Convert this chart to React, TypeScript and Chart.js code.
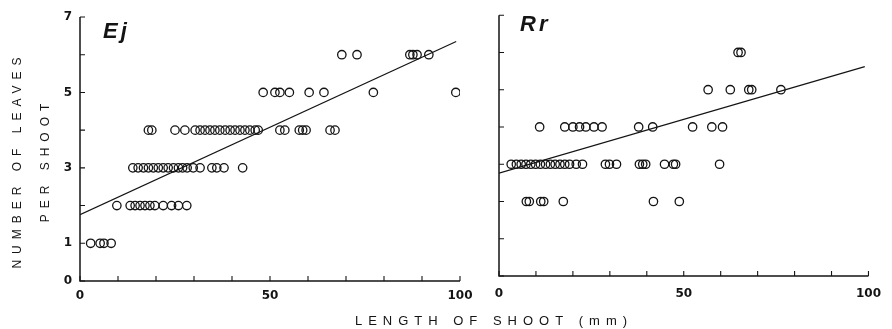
import React, { useEffect, useRef } from 'react';
import { Chart, registerables } from 'chart.js';

Chart.register(...registerables);

// ---------- data ----------
// Leaf counts (y) and the shoot lengths (mm, x) observed at each count
const ejLevels = [1, 2, 3, 4, 5, 6];
const ejAt1 = [2.8, 5.3, 6.3, 8.2];
const ejAt2 = [9.7, 13.2, 14.5, 15.8, 17.1, 18.4, 19.7, 21.9, 24.1, 25.9, 28.1];
const ejAt3 = [13.9, 15.3, 16.7, 18.0, 19.3, 20.6, 21.9, 23.2, 24.6, 25.9, 27.0, 28.2, 29.8, 31.6, 34.7, 36.0, 37.9, 42.8];
const ejAt4 = [18.0, 18.9, 25.0, 27.6, 30.3, 31.6, 32.9, 34.2, 35.5, 36.8, 38.2, 39.5, 40.8, 42.1, 43.4, 44.7, 46.1, 46.9, 52.6, 53.9, 57.7, 58.6, 59.5, 65.8, 67.1];
const ejAt5 = [48.2, 51.3, 52.6, 55.1, 60.3, 64.2, 77.2, 98.9];
const ejAt6 = [68.9, 72.9, 86.8, 87.6, 88.7, 91.8];
const ejFitX = [0, 99];
const ejFitY = [1.76, 6.35];

const rrLevels = [2, 3, 4, 5, 6];
const rrAt2 = [7.4, 8.2, 11.3, 12.1, 17.4, 41.8, 48.8];
const rrAt3 = [3.3, 4.7, 6.0, 7.3, 8.6, 9.9, 11.2, 12.6, 13.9, 15.2, 16.5, 17.8, 19.1, 20.9, 22.6, 28.8, 29.9, 31.8, 38.0, 38.9, 39.7, 44.8, 47.2, 47.8, 59.7];
const rrAt4 = [11.0, 17.8, 20.0, 21.8, 23.5, 25.7, 27.9, 37.8, 41.6, 52.4, 57.6, 60.5];
const rrAt5 = [56.6, 62.6, 67.6, 68.4, 76.3];
const rrAt6 = [64.7, 65.5];
const rrFitX = [0, 99];
const rrFitY = [2.76, 5.62];

const leftYTickLabels = [0, 1, 3, 5, 7];
const rightYTickLabels: number[] = [];
const xTickLabels = [0, 50, 100];

const ejTitle = 'Ej';
const rrTitle = 'Rr';
const yTitle1 = 'NUMBER OF LEAVES';
const yTitle2 = 'PER SHOOT';
const xTitle = 'LENGTH OF SHOOT (mm)';

// ---------- drawing ----------
const W = 892;
const H = 329;
const INK = '#141414';
const SANS = '"Liberation Sans", Arial, sans-serif';
const TICKFONT = { family: '"DejaVu Sans", sans-serif', size: 12, weight: 'bold' as const };

const framePlugin = {
  id: 'frame',
  afterDraw(chart: any, _args: any, opts: any) {
    const { ctx, chartArea: a, scales } = chart;
    const xs = scales.x;
    const ys = scales.y;
    ctx.save();
    ctx.strokeStyle = INK;
    ctx.lineWidth = 1.5;
    ctx.beginPath();
    ctx.moveTo(a.left, a.top);
    ctx.lineTo(a.left, a.bottom);
    ctx.lineTo(a.right, a.bottom);
    ctx.stroke();
    ctx.lineWidth = 1.1;
    ctx.beginPath();
    ys.ticks.forEach((t: any) => {
      const p = ys.getPixelForValue(t.value);
      ctx.moveTo(a.left, p);
      ctx.lineTo(a.left + 5, p);
    });
    xs.ticks.forEach((t: any) => {
      const p = xs.getPixelForValue(t.value);
      ctx.moveTo(p, a.bottom);
      ctx.lineTo(p, a.bottom - 5);
    });
    ctx.stroke();
    (opts.texts || []).forEach((t: any) => {
      ctx.save();
      ctx.font = t.font;
      ctx.fillStyle = INK;
      ctx.textAlign = t.align || 'left';
      ctx.textBaseline = t.baseline || 'alphabetic';
      try { (ctx as any).letterSpacing = t.spacing || '0px'; } catch (e) {}
      ctx.translate(t.x, t.y);
      if (t.rotate) ctx.rotate(t.rotate);
      ctx.fillText(t.text, 0, 0);
      ctx.restore();
    });
    ctx.restore();
  },
};

function points(levels: number[], lists: number[][]) {
  const out: { x: number; y: number }[] = [];
  levels.forEach((lv, i) => lists[i].forEach((x) => out.push({ x, y: lv })));
  return out;
}

function fit(xs: number[], ys: number[]) {
  return xs.map((x, i) => ({ x, y: ys[i] }));
}

function makeConfig(p: {
  pts: { x: number; y: number }[];
  line: { x: number; y: number }[];
  padding: { left: number; top: number; right: number; bottom: number };
  yWidth: number;
  xHeight: number;
  yLabels: number[];
  xPad: number;
  texts: any[];
}): any {
  return {
    type: 'scatter',
    data: {
      datasets: [
        {
          data: p.pts,
          pointRadius: 4.2,
          pointBorderWidth: 1.3,
          pointBorderColor: INK,
          pointBackgroundColor: 'rgba(0,0,0,0)',
          borderColor: INK,
          backgroundColor: 'rgba(0,0,0,0)',
        },
        {
          data: p.line,
          showLine: true,
          pointRadius: 0,
          borderColor: INK,
          borderWidth: 1.2,
          backgroundColor: 'rgba(0,0,0,0)',
        },
      ],
    },
    options: {
      responsive: false,
      animation: false,
      events: [],
      layout: { padding: p.padding },
      plugins: {
        legend: { display: false },
        tooltip: { enabled: false },
        frame: { texts: p.texts },
      },
      scales: {
        x: {
          type: 'linear',
          min: 0,
          max: 100,
          grid: { display: false, drawTicks: false },
          border: { display: false },
          afterFit: (s: any) => { s.height = p.xHeight; },
          ticks: {
            stepSize: 10,
            autoSkip: false,
            maxRotation: 0,
            padding: p.xPad,
            color: INK,
            font: TICKFONT,
            callback: (v: number) => (xTickLabels.includes(v) ? String(v) : ''),
          },
        },
        y: {
          type: 'linear',
          min: 0,
          max: 7,
          grid: { display: false, drawTicks: false },
          border: { display: false },
          afterFit: (s: any) => { s.width = p.yWidth; },
          ticks: {
            stepSize: 1,
            autoSkip: false,
            padding: 8,
            color: INK,
            font: TICKFONT,
            callback: (v: number) => (p.yLabels.includes(v) ? String(v) : ''),
          },
        },
      },
    },
    plugins: [framePlugin],
  };
}

export default function App() {
  const leftRef = useRef<HTMLCanvasElement>(null);
  const rightRef = useRef<HTMLCanvasElement>(null);

  useEffect(() => {
    document.body.style.margin = '0';
    const left = new Chart(
      leftRef.current as HTMLCanvasElement,
      makeConfig({
        pts: points(ejLevels, [ejAt1, ejAt2, ejAt3, ejAt4, ejAt5, ejAt6]),
        line: fit(ejFitX, ejFitY),
        padding: { left: 0, top: 17, right: W - 460, bottom: 0 },
        yWidth: 80,
        xHeight: H - 281,
        yLabels: leftYTickLabels,
        xPad: 8,
        texts: [
          { text: ejTitle, font: `italic bold 22px ${SANS}`, x: 103, y: 38, spacing: '3px' },
          { text: yTitle1, font: `12px ${SANS}`, x: 18, y: 160, align: 'center', baseline: 'middle', spacing: '6px', rotate: -Math.PI / 2 },
          { text: yTitle2, font: `12px ${SANS}`, x: 46, y: 160, align: 'center', baseline: 'middle', spacing: '6px', rotate: -Math.PI / 2 },
          { text: xTitle, font: `13px ${SANS}`, x: 494, y: 321, align: 'center', baseline: 'middle', spacing: '6px' },
        ],
      })
    );
    const right = new Chart(
      rightRef.current as HTMLCanvasElement,
      makeConfig({
        pts: points(rrLevels, [rrAt2, rrAt3, rrAt4, rrAt5, rrAt6]),
        line: fit(rrFitX, rrFitY),
        padding: { left: 470, top: 12, right: W - 879, bottom: 0 },
        yWidth: 29,
        xHeight: H - 276,
        yLabels: rightYTickLabels,
        xPad: 11,
        texts: [
          { text: rrTitle, font: `italic bold 22px ${SANS}`, x: 520, y: 31, spacing: '3px' },
        ],
      })
    );
    return () => {
      left.destroy();
      right.destroy();
    };
  }, []);

  return (
    <div style={{ position: 'relative', width: W, height: H, background: '#fff' }}>
      <canvas ref={leftRef} width={W} height={H} style={{ position: 'absolute', left: 0, top: 0 }} />
      <canvas ref={rightRef} width={W} height={H} style={{ position: 'absolute', left: 0, top: 0 }} />
    </div>
  );
}
